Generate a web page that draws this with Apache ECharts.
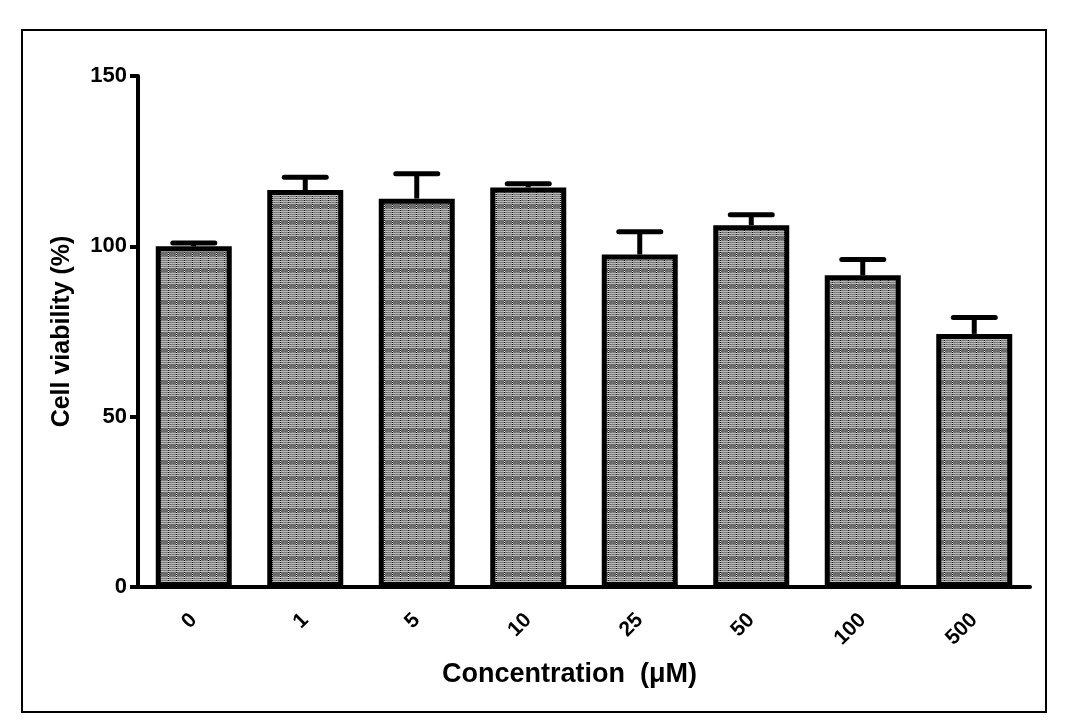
<!DOCTYPE html>
<html>
<head>
<meta charset="utf-8">
<script src="https://cdn.jsdelivr.net/npm/echarts@6/dist/echarts.min.js"></script>
<style>
html,body{margin:0;padding:0;background:#fff;}
#chart{width:1071px;height:727px;}
</style>
</head>
<body>
<div id="chart"></div>
<script>
var categories = ['0', '1', '5', '10', '25', '50', '100', '500'];
var viability = [100, 116.5, 114.0, 117.3, 97.6, 106.2, 91.5, 74.3];
var errorTop = [101, 120.3, 121.3, 118.4, 104.3, 109.3, 96.1, 79.1];
var yTicks = [0, 50, 100, 150];

// texture for the bars
var pc = document.createElement('canvas');
pc.width = 8; pc.height = 16;
var g = pc.getContext('2d');
g.fillStyle = '#7c7c7c'; g.fillRect(0, 0, 8, 16);
g.fillStyle = '#b6b6b6';
for (var r = 1; r < 12; r += 2) g.fillRect(1, r, 7, 1);
g.fillStyle = '#6c6c6c'; g.fillRect(1, 12, 7, 4);
for (var r2 = 0; r2 < 16; r2++) {
  g.fillStyle = (r2 % 2 === 0) ? '#111' : '#d8d8d8';
  g.fillRect(0, r2, 1, 1);
}

var chart = echarts.init(document.getElementById('chart'));
var errData = categories.map(function (c, i) { return [i, viability[i], errorTop[i]]; });
var FONT = '"Liberation Sans", Arial, sans-serif';

var option = {
  backgroundColor: '#fff',
  animation: false,
  grid: { left: 138, right: 41, top: 76, bottom: 140, containLabel: false },
  xAxis: {
    type: 'category',
    data: categories,
    axisLine: { lineStyle: { color: '#000', width: 4 } },
    axisTick: { alignWithLabel: true, length: 8, lineStyle: { color: '#000', width: 4 } },
    axisLabel: { rotate: 45, margin: 30, color: '#000', fontFamily: FONT, fontWeight: 'bold', fontSize: 21 }
  },
  yAxis: {
    type: 'value',
    min: 0, max: 150, interval: 50,
    axisLine: { show: true, lineStyle: { color: '#000', width: 4 } },
    axisTick: { show: true, length: 8, lineStyle: { color: '#000', width: 4 } },
    splitLine: { show: false },
    axisLabel: { margin: 11, color: '#000', fontFamily: FONT, fontWeight: 'bold', fontSize: 22,
      formatter: function (v) { return yTicks.indexOf(v) >= 0 ? String(v) : ''; } },
    name: 'Cell viability (%)',
    nameLocation: 'middle',
    nameGap: 63,
    nameTextStyle: { color: '#000', fontFamily: FONT, fontWeight: 'bold', fontSize: 25 }
  },
  graphic: [
    { type: 'rect', shape: { x: 22, y: 30, width: 1024, height: 682 }, style: { fill: 'none', stroke: '#000', lineWidth: 2 }, z: 0 },
    { type: 'text', left: 442, top: 661, style: { text: 'Concentration  (\u03bcM)', fill: '#000', font: 'bold 27px ' + FONT } }
  ],
  series: [
    {
      type: 'bar',
      data: viability,
      barWidth: 76,
      itemStyle: { color: { image: pc, repeat: 'repeat' }, borderColor: '#000', borderWidth: 5 },
      z: 2
    },
    {
      type: 'custom',
      data: errData,
      z: 3,
      renderItem: function (params, api) {
        var x = api.value(0);
        var base = api.coord([x, api.value(1)]);
        var top = api.coord([x, api.value(2)]);
        var half = 21;
        var st = { stroke: '#000', lineWidth: 5, lineCap: 'round' };
        return {
          type: 'group',
          children: [
            { type: 'line', shape: { x1: base[0], y1: base[1], x2: top[0], y2: top[1] }, style: { stroke: '#000', lineWidth: 5 } },
            { type: 'line', shape: { x1: top[0] - half, y1: top[1], x2: top[0] + half, y2: top[1] }, style: st }
          ]
        };
      }
    }
  ]
};
chart.setOption(option);
</script>
</body>
</html>
